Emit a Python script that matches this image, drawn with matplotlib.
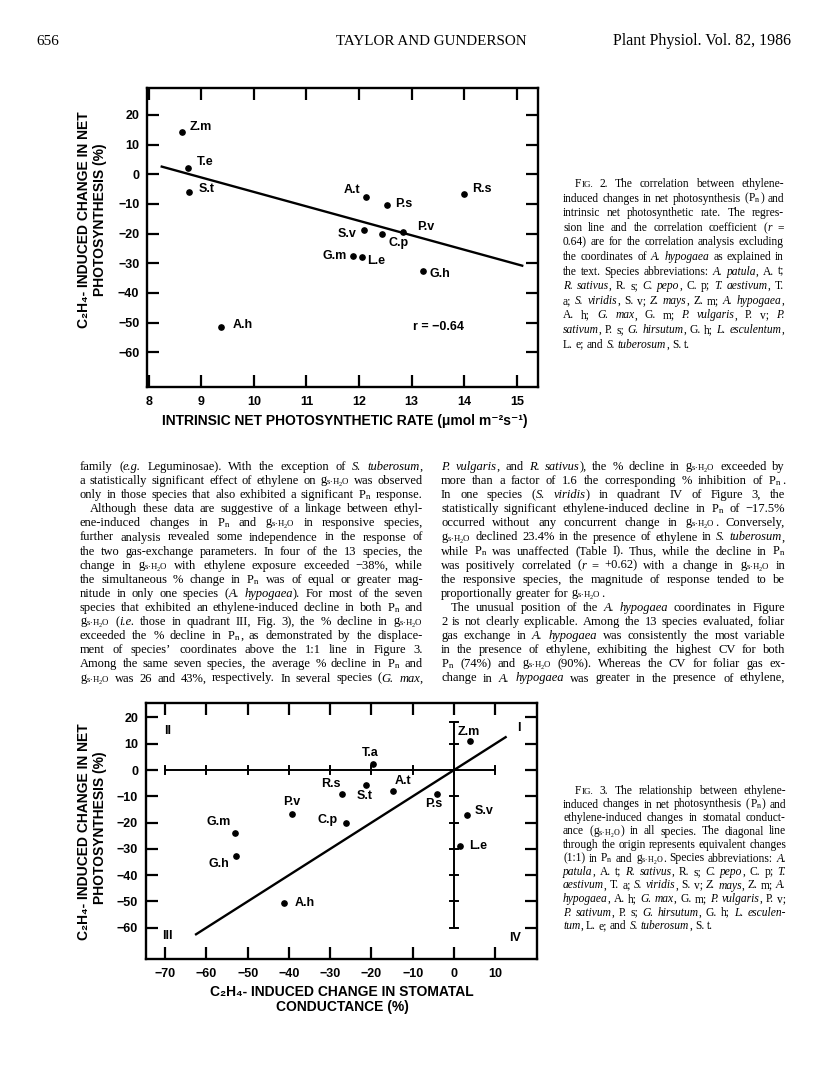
import matplotlib
matplotlib.use('Agg')
import matplotlib.pyplot as plt
from matplotlib.transforms import IdentityTransform

plt.rcParams['mathtext.fontset'] = 'custom'
plt.rcParams['mathtext.rm'] = 'Liberation Serif'
plt.rcParams['mathtext.it'] = 'Liberation Serif:italic'
plt.rcParams['mathtext.bf'] = 'Liberation Serif:bold'
plt.rcParams['axes.unicode_minus'] = True

# ---------------- data : Fig. 2 ----------------
fig2_species = ['Z.m', 'T.e', 'S.t', 'A.h', 'A.t', 'P.s', 'R.s', 'S.v', 'C.p', 'P.v', 'G.m', 'L.e', 'G.h']
fig2_rate = [8.63, 8.74, 8.76, 9.38, 12.13, 12.54, 14.00, 12.09, 12.44, 12.83, 11.88, 12.06, 13.21]
fig2_change = [14.2, 2.0, -6.0, -51.4, -7.7, -10.5, -6.6, -18.8, -20.2, -19.6, -27.4, -28.0, -32.6]
fig2_reg_x = [8.25, 15.10]
fig2_reg_y = [2.6, -30.8]
fig2_r_text = 'r = −0.64'
fig2_xticks = [8, 9, 10, 11, 12, 13, 14, 15]
fig2_yticks = [20, 10, 0, -10, -20, -30, -40, -50, -60]

# ---------------- data : Fig. 3 ----------------
fig3_species = ['T.a', 'Z.m', 'R.s', 'S.t', 'A.t', 'P.s', 'S.v', 'L.e', 'P.v', 'C.p', 'G.m', 'G.h', 'A.h']
fig3_gs = [-19.7, 3.9, -27.2, -21.3, -14.7, -4.1, 3.1, 1.5, -39.3, -26.2, -53.1, -52.9, -41.3]
fig3_pn = [2.3, 11.1, -9.1, -5.7, -8.0, -9.2, -17.1, -28.9, -16.7, -20.0, -24.0, -32.6, -50.7]
fig3_line = [-62.5, 12.5]
fig3_xticks = [-70, -60, -50, -40, -30, -20, -10, 0, 10]
fig3_yticks = [20, 10, 0, -10, -20, -30, -40, -50, -60]
fig3_vaxis_top = 18.3
fig3_quadrants = ['I', 'II', 'III', 'IV']

# ---------------- layout (pixels) ----------------
W, H = 816, 1073
fig = plt.figure(figsize=(W / 100, H / 100), dpi=100)
fig.patch.set_facecolor('white')
PX = IdentityTransform()
SANS = ['Liberation Sans', 'DejaVu Sans']
SERIF = ['Liberation Serif', 'DejaVu Serif']
TK = 9.0   # chart tick / point label size
AL = 10.0  # chart axis title size


def ptxt(x, y, s, **kw):
    return fig.text(x, H - y, s, transform=PX, **kw)


def style_axes(ax, xt, yt):
    for sp in ax.spines.values():
        sp.set_linewidth(1.7)
    ax.set_xticks(xt)
    ax.set_yticks(yt)
    ax.tick_params(direction='in', length=8.5, width=1.6, top=True, right=True,
                   labelsize=TK)
    ax.tick_params(axis='x', pad=6.5)
    ax.tick_params(axis='y', pad=5.5)
    for lab in ax.get_xticklabels() + ax.get_yticklabels():
        lab.set_fontweight('bold')
        lab.set_family(SANS)
    ax.set_facecolor('none')


# ---------- Fig 2 ----------
ax2 = fig.add_axes([147 / W, 1 - 387 / H, 391 / W, 299 / H])
ax2.set_xlim(7.97, 15.40)
ax2.set_ylim(-71.7, 29.1)
ax2.plot(fig2_reg_x, fig2_reg_y, color='black', lw=1.7)
ax2.plot(fig2_rate, fig2_change, 'o', color='black', ms=3.8)
style_axes(ax2, fig2_xticks, fig2_yticks)
ax2.set_xticklabels([str(v) for v in fig2_xticks])
lab2 = {'Z.m': (8, -5.6, 'left'), 'T.e': (9, -6.6, 'left'), 'S.t': (10, -3, 'left'),
        'A.h': (11, -2, 'left'), 'A.t': (-6, -7, 'right'), 'P.s': (8, -1, 'left'),
        'R.s': (8, -5, 'left'), 'S.v': (-7, 4, 'right'), 'C.p': (6, 9, 'left'),
        'P.v': (14, -5, 'left'), 'G.m': (-6, 0, 'right'), 'L.e': (5, 4, 'left'),
        'G.h': (7, 3, 'left')}
for name, xv, yv in zip(fig2_species, fig2_rate, fig2_change):
    dx, dy, ha = lab2[name]
    ax2.annotate(name, (xv, yv), xytext=(dx * 0.72, -dy * 0.72), textcoords='offset points',
                 ha=ha, va='center', fontsize=TK, fontweight='bold', family=SANS)
ax2.text(13.03, -51.4, fig2_r_text, ha='left', va='center', fontsize=TK,
         fontweight='bold', family=SANS)
ptxt(84, 220, 'C₂H₄- INDUCED CHANGE IN NET', rotation=90, ha='center', va='center',
     fontsize=AL, fontweight='bold', family=SANS)
ptxt(100, 220, 'PHOTOSYNTHESIS (%)', rotation=90, ha='center', va='center',
     fontsize=AL, fontweight='bold', family=SANS)
ptxt(345, 421, 'INTRINSIC NET PHOTOSYNTHETIC RATE (μmol m⁻²s⁻¹)', ha='center', va='center',
     fontsize=AL, fontweight='bold', family=SANS)

# ---------- Fig 3 ----------
ax3 = fig.add_axes([145.7 / W, 1 - 959 / H, (537 - 145.7) / W, 256 / H])
ax3.set_xlim(-74.7, 20.1)
ax3.set_ylim(-71.9, 25.5)
# inner axes through origin
hx = [fig3_xticks[0], fig3_xticks[-1]]
ax3.plot(hx, [0, 0], color='black', lw=1.4)
for xv in fig3_xticks:
    ax3.plot([xv, xv], [-1.6, 1.6], color='black', lw=1.4)
vy = [fig3_yticks[-1], fig3_vaxis_top]
ax3.plot([0, 0], vy, color='black', lw=1.4)
for yv in fig3_yticks[1:] + [fig3_vaxis_top]:
    ax3.plot([-1.0, 1.0], [yv, yv], color='black', lw=1.4)
ax3.plot(fig3_line, fig3_line, color='black', lw=1.7)
ax3.plot(fig3_gs, fig3_pn, 'o', color='black', ms=3.8)
style_axes(ax3, fig3_xticks, fig3_yticks)
lab3 = {'T.a': (-2, -11, 'center'), 'Z.m': (-1, -9, 'center'), 'R.s': (-1, -10, 'right'),
        'S.t': (-1, 11, 'center'), 'A.t': (1, -10, 'left'), 'P.s': (-3, 10, 'center'),
        'S.v': (8, -4, 'left'), 'L.e': (9, 0, 'left'), 'P.v': (0, -12, 'center'),
        'C.p': (-8, -3, 'right'), 'G.m': (-4, -11, 'right'), 'G.h': (-6, 8, 'right'),
        'A.h': (11, 0, 'left')}
for name, xv, yv in zip(fig3_species, fig3_gs, fig3_pn):
    dx, dy, ha = lab3[name]
    ax3.annotate(name, (xv, yv), xytext=(dx * 0.72, -dy * 0.72), textcoords='offset points',
                 ha=ha, va='center', fontsize=TK, fontweight='bold', family=SANS)
quad_pos = {'I': (15.8, 15.9), 'II': (-69.5, 15.0), 'III': (-69.5, -63.0), 'IV': (14.7, -64.0)}
for q in fig3_quadrants:
    ax3.text(*quad_pos[q], q, ha='center', va='center', fontsize=TK, fontweight='bold', family=SANS)
ptxt(84, 832, 'C₂H₄- INDUCED CHANGE IN NET', rotation=90, ha='center', va='center',
     fontsize=AL, fontweight='bold', family=SANS)
ptxt(100, 828, 'PHOTOSYNTHESIS (%)', rotation=90, ha='center', va='center',
     fontsize=AL, fontweight='bold', family=SANS)
ptxt(342, 992, 'C₂H₄- INDUCED CHANGE IN STOMATAL', ha='center', va='center',
     fontsize=AL, fontweight='bold', family=SANS)
ptxt(342, 1007, 'CONDUCTANCE (%)', ha='center', va='center',
     fontsize=AL, fontweight='bold', family=SANS)

# ---------------- running text ----------------
renderer = fig.canvas.get_renderer()
P = r'$\mathregular{P_n}$'
G = r'$\mathregular{g_{s{\cdot}H_2O}}$'


def parse_word(w, state):
    pieces, buf, i = [], '', 0
    while i < len(w):
        c = w[i]
        if c == '$':
            j = w.index('$', i + 1)
            if buf:
                pieces.append((buf, dict(state)))
                buf = ''
            pieces.append((w[i:j + 1], dict(state, math=True)))
            i = j + 1
            continue
        if c in '*~':
            if buf:
                pieces.append((buf, dict(state)))
                buf = ''
            key = 'it' if c == '*' else 'sc'
            state[key] = not state[key]
        else:
            buf += c
        i += 1
    if buf:
        pieces.append((buf, dict(state)))
    return pieces


def draw_block(x0, x1, y0, lead, lines, size, mingap_frac=0.7):
    state = {'it': False, 'sc': False}
    built = []
    for k, (ln, just, ind) in enumerate(lines):
        yb = y0 + k * lead
        groups = []
        for w in ln.split(' '):
            if not w:
                continue
            objs = []
            for s, st in parse_word(w, state):
                rel = 0.78 if st['sc'] else 1.0
                it = st['it'] and not st.get('math', False)
                t = ptxt(0, yb, s, fontsize=size * rel, family=SERIF,
                         style='italic' if it else 'normal', va='baseline', ha='left')
                objs.append([t, rel, 0.0])
            groups.append(objs)
        built.append((groups, just, ind))

    def measure(groups, sz):
        for g in groups:
            for o in g:
                o[0].set_fontsize(sz * o[1])
                o[2] = o[0].get_window_extent(renderer=renderer).width
        return [sum(o[2] for o in g) for g in groups]

    # one common size for the block so that every justified line fits
    factor = 1.0
    sp0 = size * 100 / 72 * 0.25
    for groups, just, ind in built:
        if not just or len(groups) < 2:
            continue
        ws = measure(groups, size)
        avail = x1 - x0 - ind - (len(groups) - 1) * sp0 * mingap_frac
        factor = min(factor, avail / sum(ws))
    sz = size * factor
    sp = sz * 100 / 72 * 0.25
    for groups, just, ind in built:
        ws = measure(groups, sz)
        n = len(groups)
        gap = (x1 - x0 - ind - sum(ws)) / (n - 1) if (just and n > 1) else sp
        x = x0 + ind
        for g, wsum in zip(groups, ws):
            xx = x
            for o in g:
                o[0].set_x(xx)
                xx += o[2]
            x += wsum + gap


# header
ptxt(36, 45, '656', fontsize=11, family=SERIF, va='baseline', ha='left')
ptxt(431, 45, 'TAYLOR AND GUNDERSON', fontsize=10.8, family=SERIF, va='baseline', ha='center')
ptxt(791, 45, 'Plant Physiol. Vol. 82, 1986', fontsize=11.5, family=SERIF, va='baseline', ha='right')

# Fig. 2 caption
cap2 = [
    ('F~IG.~ 2. The correlation between ethylene-', True, 12),
    (f'induced changes in net photosynthesis ({P}) and', True, 0),
    ('intrinsic net photosynthetic rate. The regres-', True, 0),
    ('sion line and the correlation coefficient (*r* =', True, 0),
    ('0.64) are for the correlation analysis excluding', True, 0),
    ('the coordinates of *A. hypogaea* as explained in', True, 0),
    ('the text. Species abbreviations: *A. patula*, A. t;', True, 0),
    ('*R. sativus*, R. s; *C. pepo*, C. p; *T. aestivum*, T.', True, 0),
    ('a; *S. viridis*, S. v; *Z. mays*, Z. m; *A. hypogaea*,', True, 0),
    ('A. h; *G. max*, G. m; *P. vulgaris*, P. v; *P.*', True, 0),
    ('*sativum*, P. s; *G. hirsutum*, G. h; *L. esculentum*,', True, 0),
    ('L. e; and *S. tuberosum*, S. t.', False, 0),
]
draw_block(563, 784, 187, 14.6, cap2, 8.3)

# Fig. 3 caption
cap3 = [
    ('F~IG.~ 3. The relationship between ethylene-', True, 12),
    (f'induced changes in net photosynthesis ({P}) and', True, 0),
    ('ethylene-induced changes in stomatal conduct-', True, 0),
    (f'ance ({G}) in all species. The diagonal line', True, 0),
    ('through the origin represents equivalent changes', True, 0),
    (f'(1:1) in {P} and {G}. Species abbreviations: *A.*', True, 0),
    ('*patula*, A. t; *R. sativus*, R. s; *C. pepo*, C. p; *T.*', True, 0),
    ('*aestivum*, T. a; *S. viridis*, S. v; *Z. mays*, Z. m; *A.*', True, 0),
    ('*hypogaea*, A. h; *G. max*, G. m; *P. vulgaris*, P. v;', True, 0),
    ('*P. sativum*, P. s; *G. hirsutum*, G. h; *L. esculen-*', True, 0),
    ('*tum*, L. e; and *S. tuberosum*, S. t.', False, 0),
]
draw_block(563, 786, 794, 13.5, cap3, 8.3)

# body text, left column
left = [
    ('family (*e.g.* Leguminosae). With the exception of *S. tuberosum*,', True, 0),
    (f'a statistically significant effect of ethylene on {G} was observed', True, 0),
    (f'only in those species that also exhibited a significant {P} response.', True, 0),
    ('Although these data are suggestive of a linkage between ethyl-', True, 10),
    (f'ene-induced changes in {P} and {G} in responsive species,', True, 0),
    ('further analysis revealed some independence in the response of', True, 0),
    ('the two gas-exchange parameters. In four of the 13 species, the', True, 0),
    (f'change in {G} with ethylene exposure exceeded −38%, while', True, 0),
    (f'the simultaneous % change in {P} was of equal or greater mag-', True, 0),
    ('nitude in only one species (*A. hypogaea*). For most of the seven', True, 0),
    (f'species that exhibited an ethylene-induced decline in both {P} and', True, 0),
    (f'{G} (*i.e.* those in quadrant III, Fig. 3), the % decline in {G}', True, 0),
    (f'exceeded the % decline in {P}, as demonstrated by the displace-', True, 0),
    ('ment of species\u2019 coordinates above the 1:1 line in Figure 3.', True, 0),
    (f'Among the same seven species, the average % decline in {P} and', True, 0),
    (f'{G} was 26 and 43%, respectively. In several species (*G. max*,', True, 0),
]
draw_block(80, 423, 470, 14.1, left, 9.0)

right = [
    (f'*P. vulgaris*, and *R. sativus*), the % decline in {G} exceeded by', True, 0),
    (f'more than a factor of 1.6 the corresponding % inhibition of {P}.', True, 0),
    ('In one species (*S. viridis*) in quadrant IV of Figure 3, the', True, 0),
    (f'statistically significant ethylene-induced decline in {P} of −17.5%', True, 0),
    (f'occurred without any concurrent change in {G}. Conversely,', True, 0),
    (f'{G} declined 23.4% in the presence of ethylene in *S. tuberosum*,', True, 0),
    (f'while {P} was unaffected (Table I). Thus, while the decline in {P}', True, 0),
    (f'was positively correlated (*r* = +0.62) with a change in {G} in', True, 0),
    ('the responsive species, the magnitude of response tended to be', True, 0),
    (f'proportionally greater for {G}.', False, 0),
    ('The unusual position of the *A. hypogaea* coordinates in Figure', True, 10),
    ('2 is not clearly explicable. Among the 13 species evaluated, foliar', True, 0),
    ('gas exchange in *A. hypogaea* was consistently the most variable', True, 0),
    ('in the presence of ethylene, exhibiting the highest CV for both', True, 0),
    (f'{P} (74%) and {G} (90%). Whereas the CV for foliar gas ex-', True, 0),
    ('change in *A. hypogaea* was greater in the presence of ethylene,', True, 0),
]
draw_block(441, 785, 470, 14.1, right, 9.0)

fig.savefig('out.png', dpi=100, facecolor='white')
